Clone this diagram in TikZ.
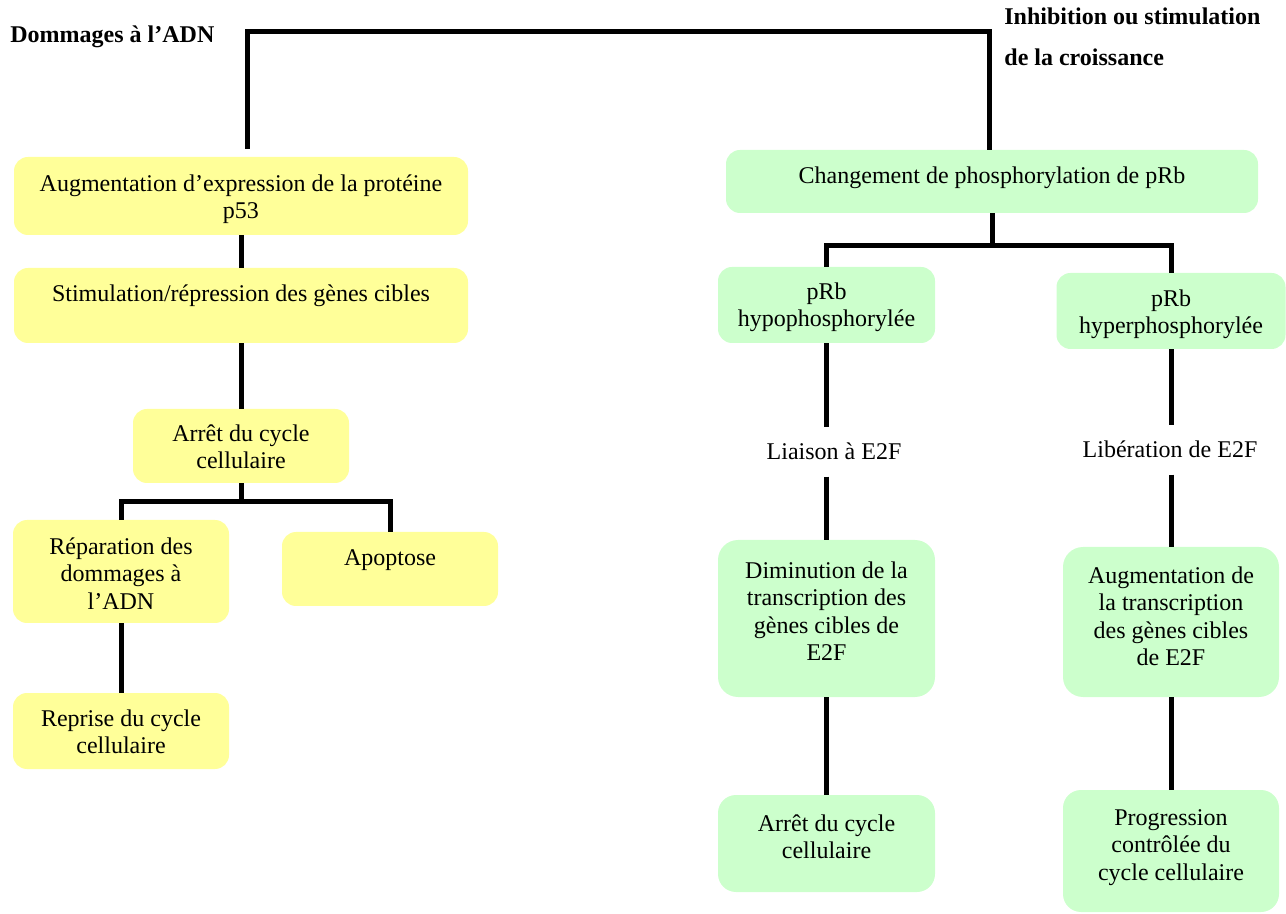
\documentclass[tikz,border=0pt]{standalone}
\usepackage{fontspec}
\setmainfont{Liberation Serif}
\definecolor{jaune}{HTML}{FFFF99}
\definecolor{vert}{HTML}{CCFFCC}
\tikzset{
	boite/.style={rectangle, rounded corners=7pt, inner sep=0pt},
	bj/.style={boite, fill=jaune},
	bv/.style={boite, fill=vert},
	texte/.style={anchor=north, align=center, inner sep=0pt, font=\fontsize{12}{13.8}\selectfont},
	titre/.style={inner sep=0pt, font=\fontsize{12}{13.8}\selectfont\bfseries},
	etiquette/.style={anchor=base, inner xsep=0pt, inner ysep=8pt, font=\fontsize{12}{13.8}\selectfont},
	lien/.style={line width=2.5pt},
}
\begin{document}
\begin{tikzpicture}[x=0.5pt, y=-0.5pt]
		\useasboundingbox ( 0, 0 ) rectangle ( 1286, 914 );

		% titres
		\node [titre, anchor=base west] (dommages) at ( 10, 43 ) {Dommages à l’ADN};
		\node [titre, anchor=north west, align=left] (croissance) at ( 1004, 7 ) {Inhibition ou stimulation\\[7pt]de la croissance};

		% voie p53
		\node [bj, minimum width=227pt, minimum height=39pt] (p53) at ( 241, 196 ) {};
		\node [texte] (t-p53) at ( 241, 174 ) {Augmentation d’expression de la protéine\\p53};
		\node [bj, minimum width=227pt, minimum height=37.5pt] (cibles) at ( 241, 305.5 ) {};
		\node [texte] (t-cibles) at ( 241, 284 ) {Stimulation/répression des gènes cibles};
		\node [bj, minimum width=108pt, minimum height=37pt] (arret1) at ( 241, 446 ) {};
		\node [texte] (t-arret1) at ( 241, 424 ) {Arrêt du cycle\\cellulaire};
		\node [bj, minimum width=108pt, minimum height=51.5pt] (repar) at ( 121, 571.5 ) {};
		\node [texte] (t-repar) at ( 121, 537 ) {Réparation des\\dommages à\\l’ADN};
		\node [bj, minimum width=108pt, minimum height=37pt] (apop) at ( 390, 569 ) {};
		\node [texte] (t-apop) at ( 390, 549 ) {Apoptose};
		\node [bj, minimum width=108pt, minimum height=38pt] (reprise) at ( 121, 731 ) {};
		\node [texte] (t-reprise) at ( 121, 709 ) {Reprise du cycle\\cellulaire};

		% voie pRb
		\node [bv, minimum width=266pt, minimum height=31.5pt] (phos) at ( 992, 181.5 ) {};
		\node [texte] (t-phos) at ( 992, 166 ) {Changement de phosphorylation de pRb};
		\node [bv, minimum width=108.5pt, minimum height=38pt] (hypo) at ( 826.5, 305 ) {};
		\node [texte] (t-hypo) at ( 826.5, 282 ) {pRb\\hypophosphorylée};
		\node [bv, minimum width=114.5pt, minimum height=38pt] (hyper) at ( 1171, 311 ) {};
		\node [texte] (t-hyper) at ( 1171, 289 ) {pRb\\hyperphosphorylée};
		\node [etiquette] (liaison) at ( 834, 460 ) {Liaison à E2F};
		\node [etiquette] (liber) at ( 1170, 458 ) {Libération de E2F};
		\node [bv, rounded corners=10pt, minimum width=108.5pt, minimum height=78.5pt] (dimin) at ( 826.5, 618.5 ) {};
		\node [texte] (t-dimin) at ( 826.5, 561 ) {Diminution de la\\transcription des\\gènes cibles de\\E2F};
		\node [bv, rounded corners=10pt, minimum width=108pt, minimum height=75pt] (augm) at ( 1171, 622 ) {};
		\node [texte] (t-augm) at ( 1171, 566 ) {Augmentation de\\la transcription\\des gènes cibles\\de E2F};
		\node [bv, rounded corners=9pt, minimum width=108.5pt, minimum height=48.5pt] (arret2) at ( 826.5, 843.5 ) {};
		\node [texte] (t-arret2) at ( 826.5, 814 ) {Arrêt du cycle\\cellulaire};
		\node [bv, rounded corners=9pt, minimum width=108pt, minimum height=61pt] (progr) at ( 1171, 851 ) {};
		\node [texte] (t-progr) at ( 1171, 809 ) {Progression\\contrôlée du\\cycle cellulaire};

		% liens du haut
		\coordinate (haut) at ( 989, 32 );
		\draw [lien] ([xshift=3pt,yshift=4pt]p53.north) |- (haut) -- (haut |- phos.north);

		% liens p53
		\coordinate (fourche1) at ( 241, 502 );
		\draw [lien] (p53.south) -- (cibles.north);
		\draw [lien] (cibles.south) -- (arret1.north);
		\draw [lien] (arret1.south) -- (fourche1);
		\draw [lien] (repar.north) |- (fourche1) -| (apop.north);
		\draw [lien] (repar.south) -- (reprise.north);

		% liens pRb
		\coordinate (fourche2) at ( 992, 246 );
		\draw [lien] (phos.south) -- (fourche2);
		\draw [lien] (hypo.north) |- (fourche2) -| (hyper.north);
		\draw [lien] (hypo.south) -- (hypo.south |- liaison.north);
		\draw [lien] (hypo.south |- liaison.south) -- (dimin.north);
		\draw [lien] (hyper.south) -- (hyper.south |- liber.north);
		\draw [lien] (hyper.south |- liber.south) -- (augm.north);
		\draw [lien] (dimin.south) -- (arret2.north);
		\draw [lien] (augm.south) -- (progr.north);
\end{tikzpicture}
\end{document}
